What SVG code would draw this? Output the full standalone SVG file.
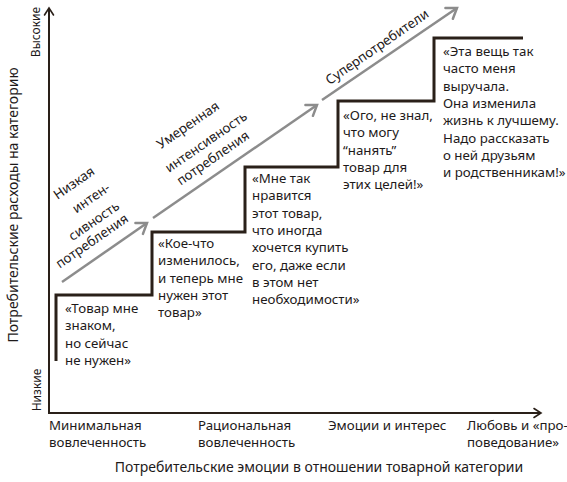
<svg xmlns="http://www.w3.org/2000/svg" width="567" height="482" viewBox="0 0 567 482">
<style>
.t{font-family:"Noto Sans","Open Sans","DejaVu Sans",sans-serif;font-size:13.3px;fill:#1e1a1a}
.ax{stroke:#2a2019;stroke-width:2;fill:none}
.st{stroke:#2a2019;stroke-width:3;fill:none;stroke-linejoin:miter}
.ar{stroke:#8c8c8c;stroke-width:2.5;fill:none}
.m{text-anchor:middle}
</style>
<defs>
<marker id="ga" markerUnits="userSpaceOnUse" markerWidth="24" markerHeight="24" viewBox="-16 -12 24 24" refX="0" refY="0" orient="auto" overflow="visible">
<path d="M-9.5,-6.6 L0,0 L-9.5,6.6" fill="none" stroke="#8c8c8c" stroke-width="2.5" stroke-linecap="round"/>
</marker>
<marker id="ka" markerUnits="userSpaceOnUse" markerWidth="20" markerHeight="20" viewBox="-12 -10 20 20" refX="0" refY="0" orient="auto" overflow="visible">
<path d="M-7,-4.5 L0,0 L-7,4.5" fill="none" stroke="#2a2019" stroke-width="1.6" stroke-linecap="round"/>
</marker>
</defs>
<rect width="567" height="482" fill="#ffffff"/>

<g id="axes">
<line class="ax" x1="49" y1="413" x2="49" y2="8" marker-end="url(#ka)"/>
<line class="ax" x1="48" y1="413" x2="541" y2="413" marker-end="url(#ka)"/>
<text class="t m" transform="translate(18 205) rotate(-90)" style="font-size:14px">Потребительские расходы на категорию</text>
<text class="t m" transform="translate(40 32) rotate(-90)" style="font-size:12px">Высокие</text>
<text class="t m" transform="translate(41 390) rotate(-90)" style="font-size:12px">Низкие</text>
<text class="t" x="49" y="430">Минимальная<tspan x="49" dy="17">вовлеченность</tspan></text>
<text class="t" x="198" y="430">Рациональная<tspan x="198" dy="17">вовлеченность</tspan></text>
<text class="t" x="328" y="430">Эмоции и интерес</text>
<text class="t" x="467" y="430">Любовь и «про-<tspan x="467" dy="17">поведование»</tspan></text>
<text class="t m" x="319" y="472" style="font-size:14px">Потребительские эмоции в отношении товарной категории</text>
</g>

<g id="staircase">
<path class="st" d="M56,361 V295 H152 V232 H245 V167 H338 V101 H434 V38 H523"/>
</g>

<g id="connectors">
<line class="ar" x1="62" y1="282" x2="147" y2="223" marker-end="url(#ga)"/>
<line class="ar" x1="153" y1="218" x2="317" y2="105" marker-end="url(#ga)"/>
<line class="ar" x1="322" y1="100" x2="457" y2="8" marker-end="url(#ga)"/>
</g>

<g id="label-low">
<text class="t m" transform="translate(74 183) rotate(-34.6)" y="4.5">Низкая</text>
<text class="t m" transform="translate(91 198) rotate(-34.6)" y="4.5">интен-</text>
<text class="t m" transform="translate(94 221) rotate(-34.6)" y="4.5">сивность</text>
<text class="t m" transform="translate(92 241) rotate(-34.6)" y="4.5">потребления</text>
</g>
<g id="label-moderate">
<text class="t m" transform="translate(188 125) rotate(-34.6)" y="4.5">Умеренная</text>
<text class="t m" transform="translate(206 142) rotate(-34.6)" y="4.5">интенсивность</text>
<text class="t m" transform="translate(213 158) rotate(-34.6)" y="4.5">потребления</text>
</g>
<g id="label-super">
<text class="t m" transform="translate(377 47) rotate(-34.6)" y="4.5">Суперпотребители</text>
</g>

<g id="step1">
<text class="t" x="65" y="313">«Товар мне<tspan x="65" dy="17.3">знаком,</tspan><tspan x="65" dy="17.3">но сейчас</tspan><tspan x="65" dy="17.3">не нужен»</tspan></text>
</g>
<g id="step2">
<text class="t" x="158" y="248">«Кое-что<tspan x="158" dy="17.3">изменилось,</tspan><tspan x="158" dy="17.3">и теперь мне</tspan><tspan x="158" dy="17.3">нужен этот</tspan><tspan x="158" dy="17.3">товар»</tspan></text>
</g>
<g id="step3">
<text class="t" x="252" y="183">«Мне так<tspan x="252" dy="17.3">нравится</tspan><tspan x="252" dy="17.3">этот товар,</tspan><tspan x="252" dy="17.3">что иногда</tspan><tspan x="252" dy="17.3">хочется купить</tspan><tspan x="252" dy="17.3">его, даже если</tspan><tspan x="252" dy="17.3">в этом нет</tspan><tspan x="252" dy="17.3">необходимости»</tspan></text>
</g>
<g id="step4">
<text class="t" x="343" y="120">«Ого, не знал,<tspan x="343" dy="17.3">что могу</tspan><tspan x="343" dy="17.3">“нанять”</tspan><tspan x="343" dy="17.3">товар для</tspan><tspan x="343" dy="17.3">этих целей!»</tspan></text>
</g>
<g id="step5">
<text class="t" x="443" y="56">«Эта вещь так<tspan x="443" dy="17.3">часто меня</tspan><tspan x="443" dy="17.3">выручала.</tspan><tspan x="443" dy="17.3">Она изменила</tspan><tspan x="443" dy="17.3">жизнь к лучшему.</tspan><tspan x="443" dy="17.3">Надо рассказать</tspan><tspan x="443" dy="17.3">о ней друзьям</tspan><tspan x="443" dy="17.3">и родственникам!»</tspan></text>
</g>
</svg>
